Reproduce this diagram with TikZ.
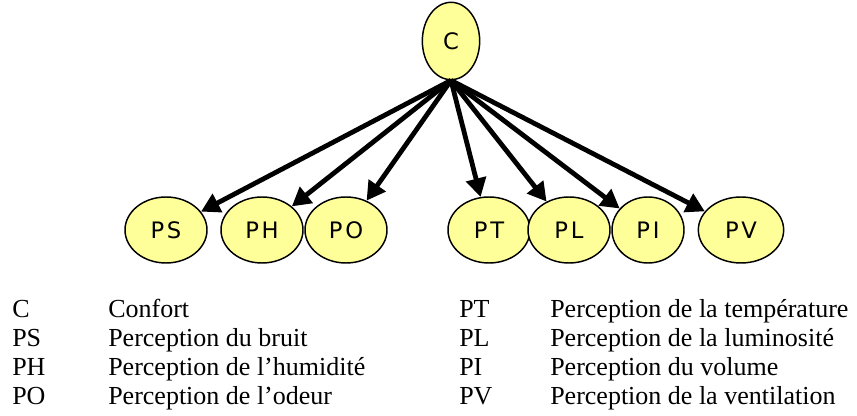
\documentclass[tikz,border=0pt]{standalone}
\usepackage{fontspec}
\setmainfont{Liberation Serif}
\newfontfamily\nodefont[LetterSpace=12]{DejaVu Sans}
\usepackage{tikz}
\usetikzlibrary{shapes.geometric, arrows.meta, positioning}

\definecolor{nodeyellow}{HTML}{FFFF99}

\tikzset{
  factor/.style={ellipse, draw=black, line width=1.1pt, fill=nodeyellow,
                 minimum width=61.5pt, minimum height=49.5pt, inner sep=0pt,
                 font=\nodefont\fontsize{17}{17}\selectfont},
  link/.style={-{Triangle[length=14pt, width=15pt]}, line width=3.6pt},
  legend/.style={anchor=base west, inner sep=0pt,
                 font=\fontsize{19.5}{19.5}\selectfont}
}

\begin{document}
\begin{tikzpicture}[x=0.75pt, y=-0.75pt]
\useasboundingbox (0,0) rectangle (857,416);

% =============== TREE ===============
\node[factor, minimum width=43pt, minimum height=58pt] (C) at (451,41) {C};
\node[factor] (PS) at (166,230) {PS};
\node[factor] (PH) at (262,230) {PH};
\node[factor] (PO) at (346,230) {PO};
\node[factor] (PT) at (489,230) {PT};
\node[factor] (PL) at (569,230) {PL};
\node[factor, minimum width=54pt] (PI) at (648,230) {PI};
\node[factor, minimum width=64pt] (PV) at (741,230) {PV};

\foreach \n in {PS,PH,PO,PT,PL,PI,PV}{
  \draw[link] (C.south) -- (\n);
}

% =============== LEGEND ===============
\node[legend] (kC)  at (12,318) {C};
\node[legend] (kPS) at (12,347) {PS};
\node[legend] (kPH) at (12,376) {PH};
\node[legend] (kPO) at (12,405) {PO};
\node[legend] (dC)  at (108,318) {Confort};
\node[legend] (dPS) at (108,347) {Perception du bruit};
\node[legend] (dPH) at (108,376) {Perception de l’humidité};
\node[legend] (dPO) at (108,405) {Perception de l’odeur};

\node[legend] (kPT) at (459,318) {PT};
\node[legend] (kPL) at (459,347) {PL};
\node[legend] (kPI) at (459,376) {PI};
\node[legend] (kPV) at (459,405) {PV};
\node[legend] (dPT) at (550,318) {Perception de la température};
\node[legend] (dPL) at (550,347) {Perception de la luminosité};
\node[legend] (dPI) at (550,376) {Perception du volume};
\node[legend] (dPV) at (550,405) {Perception de la ventilation};

\end{tikzpicture}
\end{document}
